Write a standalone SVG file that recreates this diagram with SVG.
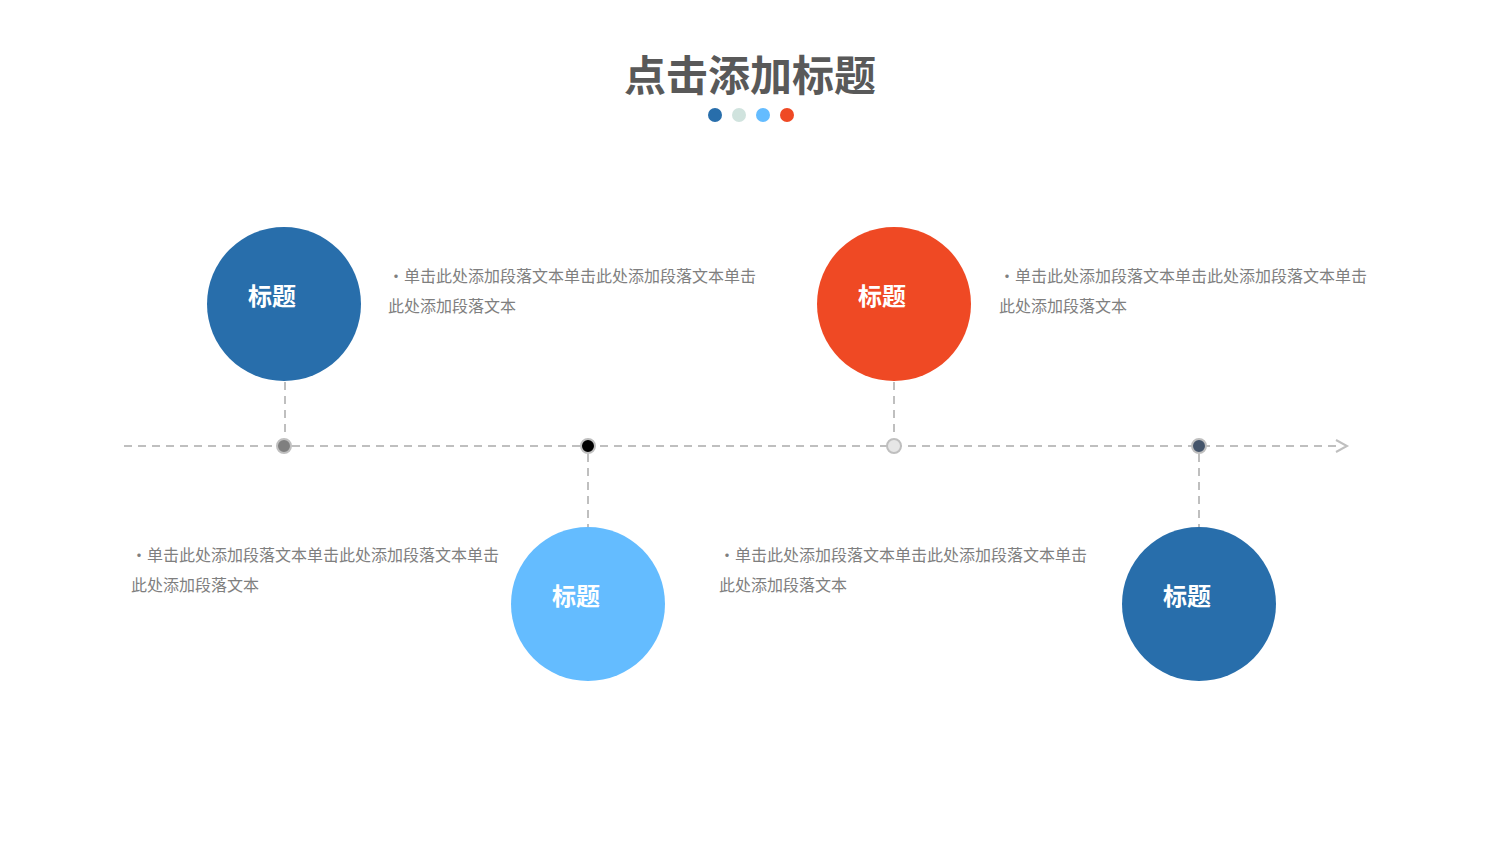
<svg xmlns="http://www.w3.org/2000/svg" width="1500" height="844" viewBox="0 0 1500 844">
<style>
.d{stroke:#bfbfbf;stroke-width:2;stroke-dasharray:8 6;fill:none}
.dot{stroke:#bfbfbf;stroke-width:2}
.t{font-family:"Noto Sans CJK SC","Liberation Sans",sans-serif;font-size:24px;font-weight:bold;fill:#fff;text-anchor:middle}
.p{font-family:"Noto Sans CJK SC","Liberation Sans",sans-serif;font-size:16px;fill:#7f7f7f}
</style>
<rect width="1500" height="844" fill="#fff"/>
<text x="750" y="91" text-anchor="middle" font-family="Noto Sans CJK SC,sans-serif" font-size="42" font-weight="bold" fill="#595959">点击添加标题</text>
<circle cx="715" cy="115" r="7" fill="#286eab"/><circle cx="739" cy="115" r="7" fill="#d0e3de"/><circle cx="763" cy="115" r="7" fill="#64bcff"/><circle cx="787" cy="115" r="7" fill="#ef4924"/>
<g id="connectors">
<path class="d" d="M124 446H1340"/><path d="M1336 440L1347 446L1336 452" fill="none" stroke="#bfbfbf" stroke-width="2"/>
<path class="d" d="M285 382V438M894 382V438M588 454V528M1199 454V528"/>
</g>
<g id="dots">
<circle class="dot" cx="284" cy="446" r="7" fill="#7f7f7f"/><circle class="dot" cx="588" cy="446" r="7" fill="#000"/><circle class="dot" cx="894" cy="446" r="7" fill="#e6e6e6"/><circle class="dot" cx="1199" cy="446" r="7" fill="#44546a"/>
</g>
<g id="n1"><circle cx="284" cy="304" r="77" fill="#286eab"/><text class="t" x="272" y="305">标题</text>
<text class="p" x="388" y="282">•单击此处添加段落文本单击此处添加段落文本单击</text><text class="p" x="388" y="312">此处添加段落文本</text></g>
<g id="n2"><circle cx="588" cy="604" r="77" fill="#64bcff"/><text class="t" x="576" y="605">标题</text>
<text class="p" x="131" y="561">•单击此处添加段落文本单击此处添加段落文本单击</text><text class="p" x="131" y="591">此处添加段落文本</text></g>
<g id="n3"><circle cx="894" cy="304" r="77" fill="#ef4924"/><text class="t" x="882" y="305">标题</text>
<text class="p" x="999" y="282">•单击此处添加段落文本单击此处添加段落文本单击</text><text class="p" x="999" y="312">此处添加段落文本</text></g>
<g id="n4"><circle cx="1199" cy="604" r="77" fill="#286eab"/><text class="t" x="1187" y="605">标题</text>
<text class="p" x="719" y="561">•单击此处添加段落文本单击此处添加段落文本单击</text><text class="p" x="719" y="591">此处添加段落文本</text></g>
</svg>
